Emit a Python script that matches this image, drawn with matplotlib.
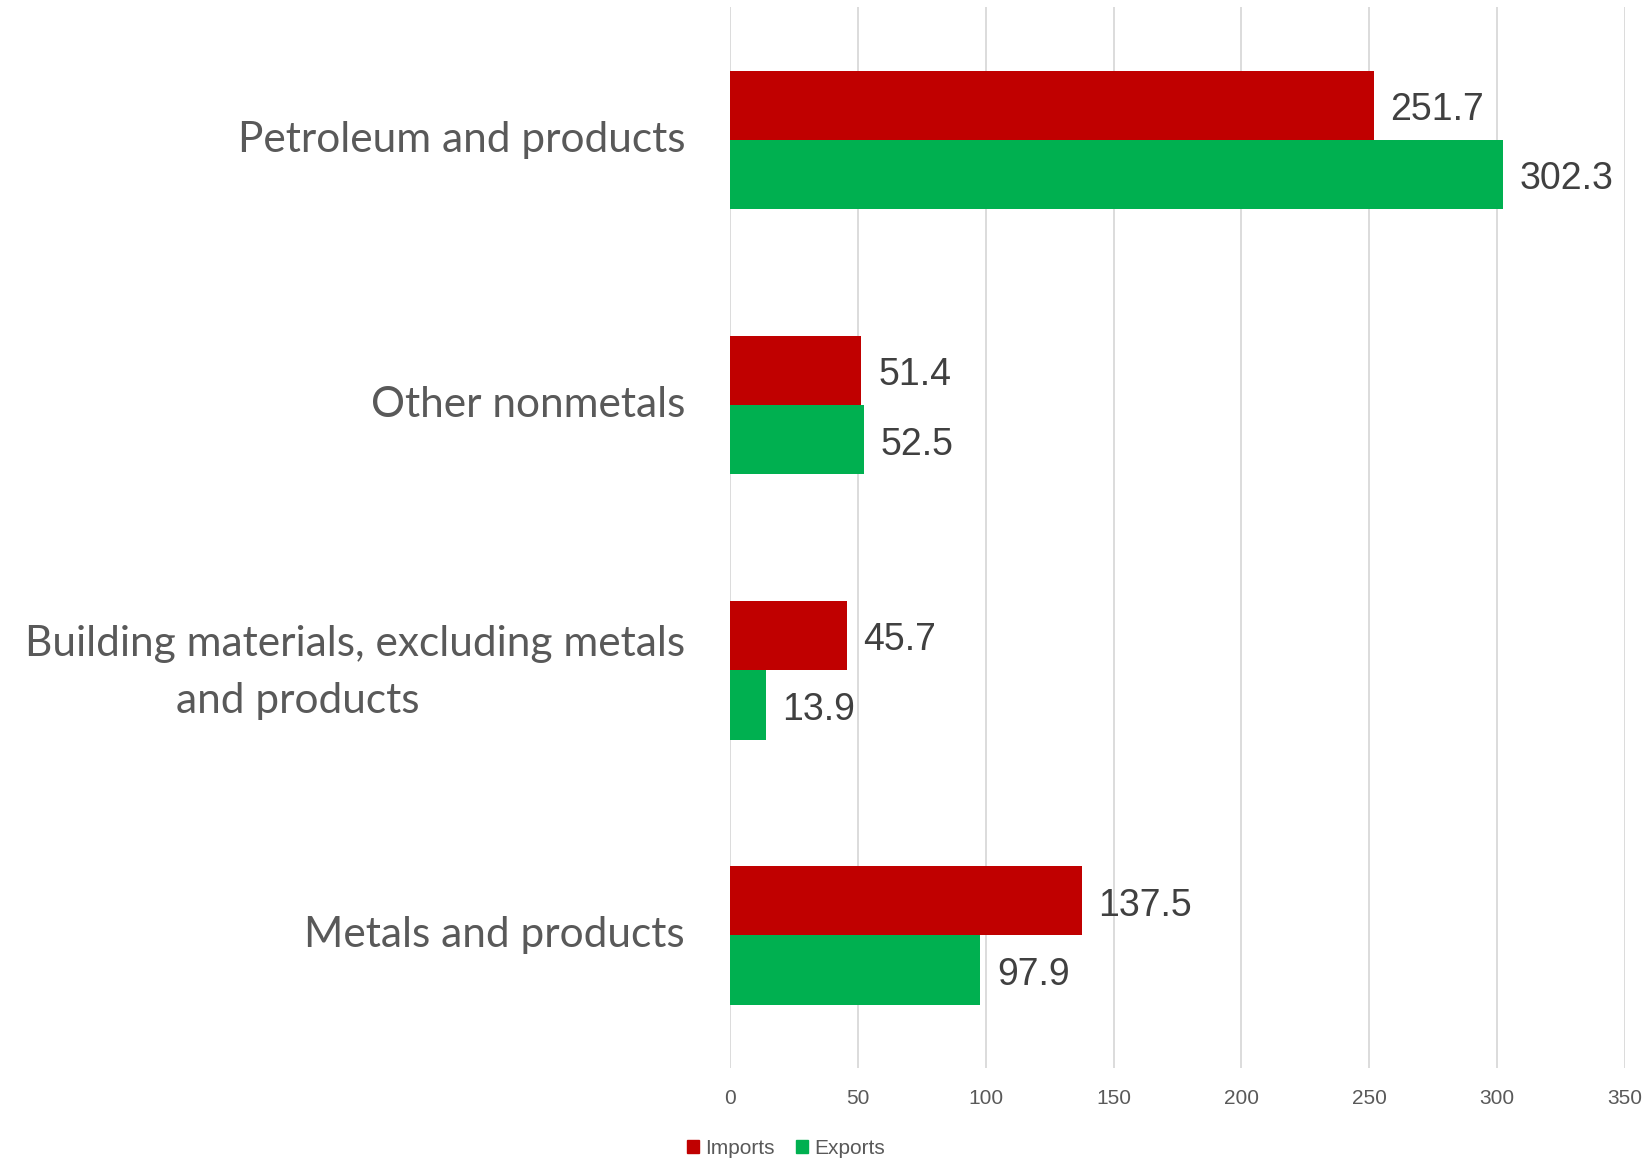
import matplotlib
matplotlib.use("Agg")
import matplotlib.pyplot as plt
from matplotlib.patches import Patch
import numpy as np

# Categories listed bottom to top
categories = ["Metals and products",
              "Building materials, excluding metals\nand products",
              "Other nonmetals",
              "Petroleum and products"]
imports = [137.5, 45.7, 51.4, 251.7]
exports = [97.9, 13.9, 52.5, 302.3]
xticks = [0, 50, 100, 150, 200, 250, 300, 350]

RED = "#C00000"
GREEN = "#00B050"
LABEL_FONT = ["Lato", "DejaVu Sans"]
NUM_FONT = ["Liberation Sans", "DejaVu Sans"]

fig = plt.figure(figsize=(16.48, 11.62), dpi=100)
ax = fig.add_axes([0.443, 0.0809, 0.543, 0.9128])

y = np.arange(len(categories))
h = 0.2615
ax.barh(y + h / 2, imports, height=h, color=RED, label="Imports", zorder=3)
ax.barh(y - h / 2, exports, height=h, color=GREEN, label="Exports", zorder=3)

ax.set_xlim(0, 350)
ax.set_ylim(-0.5, len(categories) - 0.5)
ax.set_xticks(xticks)
ax.set_xticklabels([str(t) for t in xticks], fontfamily=NUM_FONT,
                   fontsize=15, color="#595959")
ax.tick_params(axis="x", length=0, pad=15)
ax.set_yticks([])
ax.grid(axis="x", color="#D9D9D9", linewidth=1.3, zorder=0)
for s in ax.spines.values():
    s.set_visible(False)

# value labels
value_kw = dict(textcoords="offset points", va="center", ha="left",
                fontsize=27, color="#404040", fontfamily=NUM_FONT)
for yi, v in zip(y + h / 2, imports):
    ax.annotate(f"{v:.1f}", (v, yi), xytext=(12, -3.5), **value_kw)
for yi, v in zip(y - h / 2, exports):
    ax.annotate(f"{v:.1f}", (v, yi), xytext=(12, -3.5), **value_kw)

# category labels
trans = ax.get_yaxis_transform()
label_kw = dict(fontsize=30.5, color="#595959", fontfamily=LABEL_FONT)
for yi, cat in zip(y, categories):
    lines = cat.split("\n")
    if len(lines) == 1:
        ax.text(-0.0503, yi, cat, transform=trans, ha="right", va="center",
                **label_kw)
    else:
        ax.text(-0.0503, yi + 0.10, lines[0], transform=trans,
                ha="right", va="center", **label_kw)
        ax.text(-0.4827, yi - 0.117, lines[1], transform=trans,
                ha="center", va="center", **label_kw)

handles = [Patch(color=RED, label="Imports"), Patch(color=GREEN, label="Exports")]
fig.legend(handles=handles, loc="center", bbox_to_anchor=(0.477, 0.012), ncol=2,
           frameon=False, handlelength=0.6, handleheight=0.6, handletextpad=0.3,
           columnspacing=1.0, prop={"family": NUM_FONT, "size": 15},
           labelcolor="#595959")

fig.savefig("out.png", dpi=100)
